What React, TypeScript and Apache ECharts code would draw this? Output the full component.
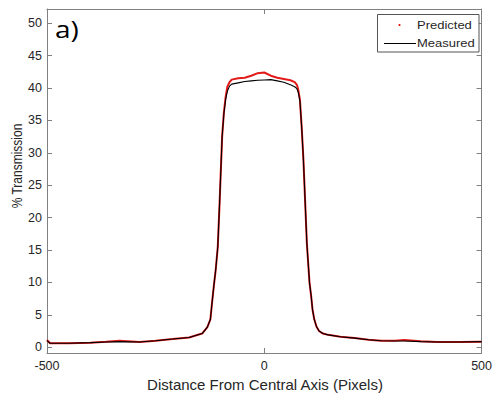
import React, { useEffect, useRef } from "react";
import * as echarts from "echarts";

const xPixels = [-500, -493, -450, -400, -364, -333, -287, -250, -211, -173, -143, -131, -124, -120, -116, -112, -107, -103, -97, -93, -89, -85, -80, -75, -60, -45, -30, -15, 0, 15, 30, 45, 60, 70, 75, 78, 82, 86, 90, 94, 98, 101, 104, 108, 111, 115, 120, 126, 135, 147, 175, 208, 240, 269, 300, 322, 360, 398, 450, 500];
const measured = [1.0, 0.6, 0.6, 0.7, 0.8, 0.85, 0.8, 1.0, 1.25, 1.5, 2.1, 3.1, 4.3, 7.0, 9.5, 11.8, 15.5, 22.0, 32.5, 36.0, 38.2, 39.5, 40.3, 40.6, 40.8, 41.0, 41.1, 41.2, 41.25, 41.3, 41.1, 40.9, 40.5, 40.2, 39.9, 39.4, 38.0, 34.0, 29.0, 22.5, 16.0, 13.0, 10.0, 7.8, 5.8, 4.3, 3.2, 2.5, 2.1, 1.9, 1.6, 1.4, 1.15, 1.0, 0.95, 0.95, 0.85, 0.8, 0.8, 0.85];
const predicted = [1.1, 0.6, 0.6, 0.7, 0.85, 1.0, 0.8, 1.0, 1.25, 1.5, 2.1, 3.1, 4.3, 7.0, 9.5, 11.8, 15.5, 22.0, 32.5, 36.2, 38.6, 40.2, 40.9, 41.3, 41.5, 41.6, 41.9, 42.3, 42.4, 41.9, 41.6, 41.4, 41.2, 40.9, 40.5, 39.8, 38.2, 34.0, 29.0, 22.5, 16.0, 13.0, 10.0, 7.8, 5.8, 4.3, 3.2, 2.5, 2.1, 1.9, 1.6, 1.4, 1.15, 1.0, 1.0, 1.1, 0.9, 0.8, 0.8, 0.85];
const yTicks = [0, 5, 10, 15, 20, 25, 30, 35, 40, 45, 50];
const seriesNames = ["Predicted", "Measured"];

export default function App() {
  const ref = useRef<HTMLDivElement>(null);
  useEffect(() => {
    if (!ref.current) return;
    const chart = echarts.init(ref.current, null, { renderer: "svg" });
    const font = "'Liberation Sans', Arial, sans-serif";
    const axisColor = "#808080";
    const labelColor = "#262626";
    const common = {
      axisLine: { onZero: false, lineStyle: { color: axisColor, width: 1 } },
      splitLine: { show: false },
    };
    chart.setOption({
      animation: false,
      backgroundColor: "#fff",
      textStyle: { fontFamily: font },
      grid: { left: 47, right: 10.5, top: 9, bottom: 46, containLabel: false },
      xAxis: [
        {
          type: "value", min: -500, max: 500, interval: 500, position: "bottom",
          ...common,
          axisTick: { inside: true, length: 5, lineStyle: { color: axisColor } },
          axisLabel: { color: labelColor, fontSize: 12.5, margin: 6, fontFamily: font },
        },
        {
          type: "value", min: -500, max: 500, interval: 500, position: "top",
          ...common,
          axisTick: { inside: true, length: 5, lineStyle: { color: axisColor } },
          axisLabel: { show: false },
        },
      ],
      yAxis: [
        {
          type: "value", min: -0.9, max: 52.2, position: "left",
          ...common,
          axisTick: { inside: true, length: 5, customValues: yTicks, lineStyle: { color: axisColor } },
          axisLabel: { color: labelColor, fontSize: 12.5, margin: 5, customValues: yTicks, fontFamily: font },
        },
        {
          type: "value", min: -0.9, max: 52.2, position: "right",
          ...common,
          axisTick: { inside: true, length: 5, customValues: yTicks, lineStyle: { color: axisColor } },
          axisLabel: { show: false },
        },
      ],
      series: [
        {
          name: seriesNames[0], type: "line", xAxisIndex: 0, yAxisIndex: 0,
          data: xPixels.map((x, i) => [x, predicted[i]]),
          showSymbol: false, lineStyle: { color: "#e31a1a", width: 2 }, z: 2,
        },
        {
          name: seriesNames[1], type: "line", xAxisIndex: 0, yAxisIndex: 0,
          data: xPixels.map((x, i) => [x, measured[i]]),
          showSymbol: false, lineStyle: { color: "#000", width: 1.1 }, z: 3,
        },
      ],
      graphic: [
        {
          type: "text", left: 55, top: 17, z: 10,
          style: { text: "a)", fontSize: 28, fontFamily: "'Open Sans', sans-serif", fill: "#000" },
          scaleY: 0.85,
        },
        {
          type: "text", x: 17, y: 166, rotation: Math.PI / 2, scaleX: 0.8, z: 10,
          style: { text: "% Transmission", fontSize: 15, fontFamily: font, fill: labelColor, align: "center", verticalAlign: "middle" },
        },
        {
          type: "text", x: 265, y: 384, z: 10,
          style: { text: "Distance From Central Axis (Pixels)", fontSize: 15, fontFamily: font, fill: labelColor, align: "center", verticalAlign: "middle" },
        },
        {
          type: "rect", z: 10,
          shape: { x: 377.5, y: 14.5, width: 101.5, height: 37.5 },
          style: { fill: "#fff", stroke: "#555", lineWidth: 1 },
        },
        {
          type: "circle", z: 11, shape: { cx: 399.5, cy: 25, r: 1.1 }, style: { fill: "#e31a1a" },
        },
        {
          type: "line", z: 11, shape: { x1: 384, y1: 43.5, x2: 416, y2: 43.5 }, style: { stroke: "#000", lineWidth: 1 },
        },
        {
          type: "text", x: 417, y: 25, z: 11, scaleY: 0.85,
          style: { text: seriesNames[0], fontSize: 13, fontFamily: font, fill: labelColor, verticalAlign: "middle" },
        },
        {
          type: "text", x: 417, y: 43, z: 11, scaleY: 0.85,
          style: { text: seriesNames[1], fontSize: 13, fontFamily: font, fill: labelColor, verticalAlign: "middle" },
        },
      ],
    });
    return () => chart.dispose();
  }, []);
  return <div ref={ref} style={{ position: "fixed", left: 0, top: 0, width: 495, height: 399 }} />;
}
